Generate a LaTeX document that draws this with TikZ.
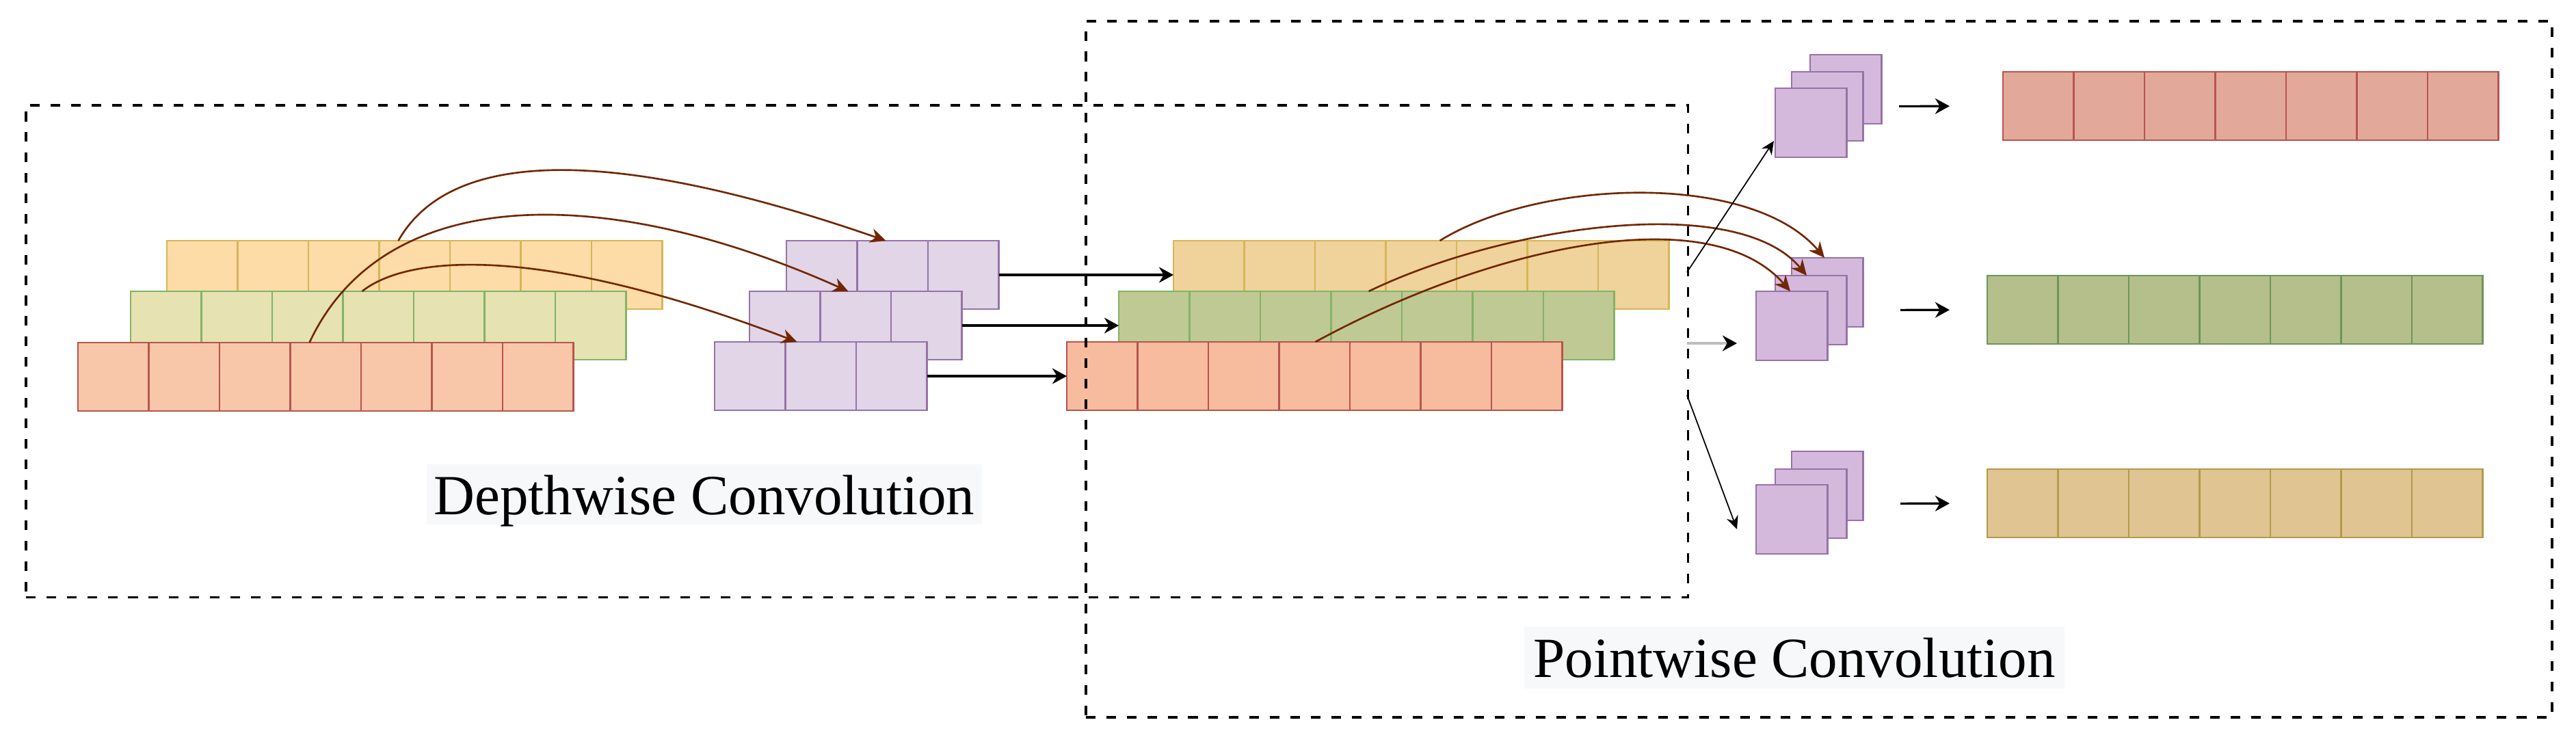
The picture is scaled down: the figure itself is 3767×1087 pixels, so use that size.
\documentclass[tikz,border=0pt]{standalone}
\usepackage{fontspec}
\setmainfont{Liberation Serif}
\usetikzlibrary{arrows.meta,calc}
\definecolor{yAf}{HTML}{FDDCA8}
\definecolor{yS}{HTML}{D6B656}
\definecolor{gAf}{HTML}{E6E2B2}
\definecolor{gS}{HTML}{82B366}
\definecolor{rAf}{HTML}{F8C7AA}
\definecolor{rS}{HTML}{B85450}
\definecolor{pAf}{HTML}{E1D5E7}
\definecolor{pS}{HTML}{9673A6}
\definecolor{yBf}{HTML}{F0D29B}
\definecolor{gBf}{HTML}{BFC994}
\definecolor{rBf}{HTML}{F7BB9E}
\definecolor{pBf}{HTML}{D4B9DC}
\definecolor{rCf}{HTML}{E2A99A}
\definecolor{gCf}{HTML}{B5BF8C}
\definecolor{gCs}{HTML}{6D9656}
\definecolor{yCf}{HTML}{E0C492}
\definecolor{yCs}{HTML}{B39A4C}
\definecolor{brn}{HTML}{722600}
\definecolor{lblbg}{HTML}{F7F8FA}
\definecolor{gry}{HTML}{BDBDBD}
\newcommand\mkrow[5]{%
  \foreach \i in {1,...,#5}{\node[#2] (#1\i) at ({#3+(\i-1)*103.5},#4) {};}}
\begin{document}
\begin{tikzpicture}[x=0.01cm,y=-0.01cm,
  cell/.style={draw, line width=0.7pt, inner sep=0pt, outer sep=0pt,
    minimum width=1.035cm, minimum height=1cm, anchor=north west},
  ya/.style={cell, fill=yAf, draw=yS},
  ga/.style={cell, fill=gAf, draw=gS},
  ra/.style={cell, fill=rAf, draw=rS},
  pa/.style={cell, fill=pAf, draw=pS},
  yb/.style={cell, fill=yBf, draw=yS},
  gb/.style={cell, fill=gBf, draw=gS},
  rb/.style={cell, fill=rBf, draw=rS},
  rc/.style={cell, fill=rCf, draw=rS},
  gc/.style={cell, fill=gCf, draw=gCs},
  yc/.style={cell, fill=yCf, draw=yCs},
  pk/.style={draw=pS, fill=pBf, line width=0.8pt, inner sep=0pt, outer sep=0pt,
    minimum width=1.04cm, minimum height=1.01cm, anchor=north west},
  dashbox/.style={draw=black, line width=1.1pt, dash pattern=on 4pt off 4.5pt,
    inner sep=0pt, outer sep=0pt, anchor=north west},
  brownarrow/.style={draw=brn, line width=0.75pt, -{Stealth[length=6.5pt,width=6pt]}},
  blkarrow/.style={draw=black, line width=0.9pt, -{Stealth[length=6pt,width=6.5pt]}},
  thinarrow/.style={draw=black, line width=0.5pt, -{Stealth[length=5.5pt,width=5pt]}},
  grayarrow/.style={draw=gry, line width=1pt, -{Stealth[length=6pt,width=6.5pt,black]}},
  lbl/.style={fill=lblbg, inner sep=0pt, font=\fontsize{23.6pt}{28pt}\selectfont}
]
\useasboundingbox (0,0) rectangle (3767,1087);

% ---- depthwise: input channels ----
\mkrow{Ya}{ya}{244}{352}{7}
\mkrow{Ga}{ga}{191}{426}{7}
\mkrow{Ra}{ra}{114}{501}{7}
% ---- depthwise kernels ----
\mkrow{Ka}{pa}{1150}{352}{3}
\mkrow{Kb}{pa}{1096}{426}{3}
\mkrow{Kc}{pa}{1045}{500}{3}
% ---- depthwise outputs ----
\mkrow{Yb}{yb}{1716}{352}{7}
\mkrow{Gb}{gb}{1636}{426}{7}
\mkrow{Rb}{rb}{1560}{500}{7}

% ---- pointwise kernel stacks ----
\node[pk] (PTb) at (2647,80) {};
\node[pk] (PTm) at (2620,105) {};
\node[pk] (PTf) at (2596,129) {};
\node[pk] (PMb) at (2620,377) {};
\node[pk] (PMm) at (2596,403) {};
\node[pk] (PMf) at (2568,426) {};
\node[pk] (PBb) at (2620,660) {};
\node[pk] (PBm) at (2596,686) {};
\node[pk] (PBf) at (2568,709) {};

% ---- pointwise outputs ----
\mkrow{Ro}{rc}{2929}{105}{7}
\mkrow{Go}{gc}{2906}{403}{7}
\mkrow{Yo}{yc}{2906}{686}{7}

% ---- labels ----
\node[lbl, minimum width=8.12cm, text height=0.73cm, text depth=0.15cm]
  (dwlabel) at (1030,723) {Depthwise Convolution};
\node[lbl, minimum width=7.9cm, text height=0.74cm, text depth=0.17cm]
  (pwlabel) at (2624,961.5) {Pointwise Convolution};

% ---- dashed frames ----
\node[dashbox, minimum width=24.29cm, minimum height=7.19cm] (DW) at (38,154) {};
\node[dashbox, minimum width=21.43cm, minimum height=10.17cm] (PW) at (1588,31) {};

% ---- depthwise curves ----
\coordinate (s1) at ($(Ya4.north west)+(28,0)$);
\coordinate (s2) at ($(Ra4.north west)+(28,0)$);
\coordinate (s3) at ($(Ga4.north west)+(28,0)$);
\coordinate (t1) at ($(Ka2.north west)+(42,0)$);
\coordinate (t2) at ($(Kb2.north west)+(41,0)$);
\coordinate (t3) at ($(Kc2.north west)+(17,0)$);
\draw[brownarrow] (s1) .. controls (660,215) and (900,215) .. (t1);
\draw[brownarrow] (s2) .. controls (560,270) and (880,265) .. (t2);
\draw[brownarrow] (s3) .. controls (600,370) and (800,360) .. (t3);

% ---- depthwise -> outputs ----
\draw[blkarrow] (Ka3.east) -- (Yb1.west);
\draw[blkarrow] (Kb3.east) -- (Gb1.west);
\draw[blkarrow] (Kc3.east) -- (Rb1.west);

% ---- pointwise curves ----
\coordinate (u1) at ($(Yb4.north west)+(79,0)$);
\coordinate (u2) at ($(Gb4.north west)+(55,0)$);
\coordinate (u3) at ($(Rb4.north west)+(53,0)$);
\draw[brownarrow] (u1) .. controls (2250,262) and (2560,250) .. ($(PMb.north)+(-4,0)$);
\draw[brownarrow] (u2) .. controls (2200,330) and (2540,280) .. ($(PMm.north)+(-6,0)$);
\draw[brownarrow] (u3) .. controls (2180,360) and (2500,290) .. ($(PMf.north)+(-2,0)$);

% ---- lines leaving the depthwise frame ----
\coordinate (e1) at (2467,398);
\coordinate (e2) at (2467,502);
\coordinate (e2t) at (2540,502);
\coordinate (e3) at (2467,578);
\coordinate (e3t) at (2540,774);
\draw[thinarrow] (e1) -- ($(PTf.south west)+(-2,-24)$);
\draw[grayarrow] (e2) -- (e2t);
\draw[thinarrow] (e3) -- (e3t);

% ---- stacks -> outputs ----
\draw[blkarrow, shorten <=0.53cm, shorten >=0.78cm] (PTm.east) -- (Ro1.west);
\draw[blkarrow, shorten <=0.79cm, shorten >=0.55cm] (PMm.east) -- (Go1.west);
\draw[blkarrow, shorten <=0.79cm, shorten >=0.55cm] (PBm.east) -- (Yo1.west);
\end{tikzpicture}
\end{document}
